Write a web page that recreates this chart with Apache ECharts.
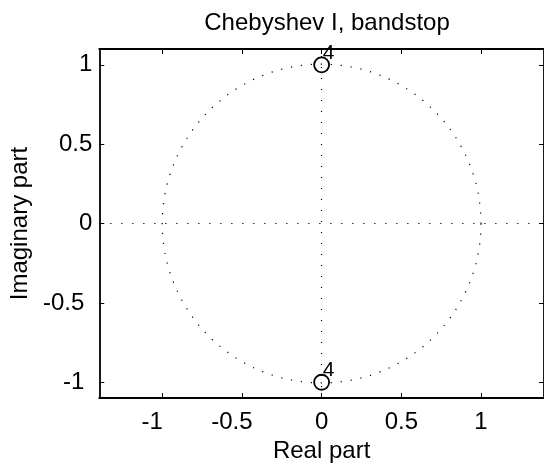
<!DOCTYPE html>
<html>
<head>
<meta charset="utf-8">
<script src="https://cdn.jsdelivr.net/npm/echarts@6/dist/echarts.min.js"></script>
<style>
  html, body { margin: 0; padding: 0; background: #fff; }
  #chart { width: 544px; height: 468px; }
</style>
</head>
<body>
<div id="chart"></div>
<script>
// zeros of the filter (real, imag) and their multiplicity
const zerosRe = [0, 0]
const zerosIm = [1, -1]
const zeroMult = [4, 4]
// unit circle: centre x, centre y, radius
const unitCircle = [[0, 0, 1]]
const xTicks = [-1, -0.5, 0, 0.5, 1]
const yTicks = [-1, -0.5, 0, 0.5, 1]
const xRange = [-1.395, 1.395]
const yRange = [-1.1, 1.1]

const font = '"Liberation Sans", Arial, sans-serif'
const dotted = [1.2, 8.8]

function xLabel (v) {
  return v < 0 ? '{t|' + v + '}{p| }' : '{t|' + v + '}'
}
function yLabel (v) {
  return v < 0 ? '{t|' + v + '}{q| }' : '{t|' + v + '}'
}
const labelRich = {
  t: { fontSize: 24, fontFamily: font, color: '#000' },
  p: { width: 20, fontSize: 24 },
  q: { width: 8, fontSize: 24 }
}

const chart = echarts.init(document.getElementById('chart'))
chart.setOption({
  animation: false,
  backgroundColor: '#fff',
  title: {
    text: 'Chebyshev I, bandstop',
    left: 322,
    top: 6,
    textAlign: 'center',
    textStyle: { fontSize: 24, fontWeight: 'normal', fontFamily: font, color: '#000' }
  },
  grid: { left: 96, top: 49, right: -4, bottom: 64 },
  xAxis: [{
    type: 'value',
    min: xRange[0],
    max: xRange[1],
    name: 'Real part',
    nameLocation: 'middle',
    nameGap: 38,
    nameTextStyle: { fontSize: 24, fontFamily: font, color: '#000' },
    axisLine: { onZero: false, lineStyle: { color: '#000', width: 1.8 } },
    axisTick: { inside: true, length: 5, customValues: xTicks, lineStyle: { color: '#000' } },
    axisLabel: { customValues: xTicks, margin: 12, formatter: xLabel, rich: labelRich },
    splitLine: { show: false }
  }, {
    type: 'value',
    position: 'top',
    min: xRange[0],
    max: xRange[1],
    axisLine: { onZero: false, lineStyle: { color: '#000', width: 1.8 } },
    axisTick: { inside: true, length: 5, customValues: xTicks, lineStyle: { color: '#000' } },
    axisLabel: { show: false },
    splitLine: { show: false }
  }],
  yAxis: [{
    type: 'value',
    min: yRange[0],
    max: yRange[1],
    name: 'Imaginary part',
    nameLocation: 'middle',
    nameGap: 60,
    nameTextStyle: { fontSize: 24, fontFamily: font, color: '#000' },
    axisLine: { show: true, onZero: false, lineStyle: { color: '#000', width: 1.8 } },
    axisTick: { show: true, inside: true, length: 5, customValues: yTicks, lineStyle: { color: '#000' } },
    axisLabel: { customValues: yTicks, margin: 7, formatter: yLabel, rich: labelRich },
    splitLine: { show: false }
  }, {
    type: 'value',
    position: 'right',
    min: yRange[0],
    max: yRange[1],
    axisLine: { show: true, onZero: false, lineStyle: { color: '#000', width: 1.8 } },
    axisTick: { show: true, inside: true, length: 5, customValues: yTicks, lineStyle: { color: '#000' } },
    axisLabel: { show: false },
    splitLine: { show: false }
  }],
  series: [{
    // unit circle and the two dotted axes
    type: 'custom',
    silent: true,
    data: unitCircle,
    renderItem: function (params, api) {
      const c = api.coord([api.value(0), api.value(1)])
      const r = api.size([api.value(2), api.value(2)])
      return {
        type: 'circle',
        shape: { cx: c[0], cy: c[1], r: r[0] },
        style: { fill: 'none', stroke: '#000', lineWidth: 1.2, lineDash: dotted }
      }
    },
    markLine: {
      silent: true,
      symbol: ['none', 'none'],
      label: { show: false },
      lineStyle: { color: '#000', width: 1.2, type: [1.2, 9.8] },
      data: [{ yAxis: 0 }, { xAxis: 0 }]
    }
  }, {
    type: 'scatter',
    symbol: 'circle',
    symbolSize: 15,
    data: zerosRe.map((x, i) => [x, zerosIm[i], zeroMult[i]]),
    itemStyle: { color: 'rgba(0,0,0,0)', borderColor: '#000', borderWidth: 1.8, opacity: 1 },
    label: {
      show: true,
      position: 'inside',
      offset: [7, -12],
      formatter: p => String(p.value[2]),
      fontSize: 21,
      fontFamily: font,
      color: '#000'
    }
  }]
})
</script>
</body>
</html>
